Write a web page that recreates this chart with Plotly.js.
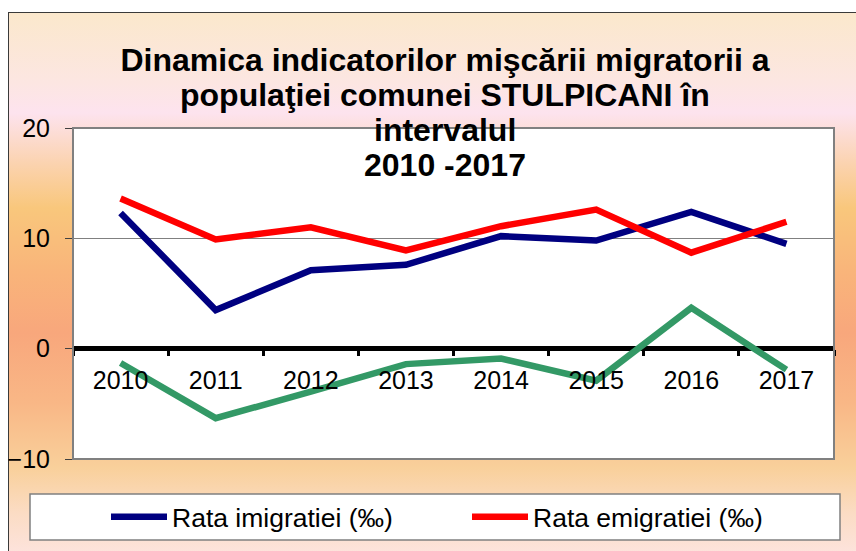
<!DOCTYPE html>
<html>
<head>
<meta charset="utf-8">
<script src="https://cdn.plot.ly/plotly-3.0.1.min.js"></script>
<style>
  html, body { margin: 0; padding: 0; width: 856px; height: 551px; overflow: hidden; background: #ffffff; }
  #bg { position: absolute; left: 8px; top: 12px; width: 860px; height: 560px;
        border-top: 1px solid #3a3a3a; border-left: 1px solid #3a3a3a;
        background: linear-gradient(to bottom, #fbe8cc 0px, #fce6e2 70px, #fde3ee 100px, #fbd3b0 150px,
                    #f9c77c 195px, #f9b47a 260px, #f8a77c 320px, #f9b786 390px, #f9d09b 455px,
                    #fbdcc4 500px, #fde3dc 540px); }
  #chart { position: absolute; left: 0; top: 0; width: 856px; height: 551px; }
</style>
</head>
<body>
<div id="bg"></div>
<div id="chart"></div>
<script>
const years = ["2010", "2011", "2012", "2013", "2014", "2015", "2016", "2017"];
const rataImigratiei = [12.3, 3.5, 7.1, 7.6, 10.2, 9.8, 12.4, 9.5];
const rataEmigratiei = [13.6, 9.9, 11.0, 8.9, 11.1, 12.6, 8.7, 11.5];
const sporMigratoriu = [-1.3, -6.3, -3.9, -1.4, -0.9, -2.9, 3.7, -1.9];
const seriesNames = ["Rata imigratiei (‰)", "Rata emigratiei (‰)", "Spor migratoriu (‰)"];
const titleLines = [
  "Dinamica indicatorilor mişcării migratorii a",
  "populaţiei comunei STULPICANI în",
  "intervalul",
  "2010 -2017"
];

const FONT = "Liberation Sans, Arial, sans-serif";
const TITLE_FONT = { family: FONT, size: 32, weight: "bold", color: "#000000" };

// plot area: x 73..834, y 128..459 (px)
const py = v => (459 - v) / 331;
const px = v => (v - 73) / 761;
const titleCenters = [60, 95, 130, 165];

const traces = [
  { x: years, y: rataImigratiei, name: seriesNames[0], type: "scatter", mode: "lines",
    line: { color: "#000080", width: 6.5 } },
  { x: years, y: rataEmigratiei, name: seriesNames[1], type: "scatter", mode: "lines",
    line: { color: "#ff0000", width: 6.5 } },
  { x: years, y: sporMigratoriu, name: seriesNames[2], type: "scatter", mode: "lines",
    line: { color: "#339966", width: 6.5 }, showlegend: false }
];

const layout = {
  width: 856, height: 551,
  margin: { l: 73, r: 22, t: 128, b: 92, pad: 0, autoexpand: false },
  paper_bgcolor: "rgba(0,0,0,0)",
  plot_bgcolor: "#ffffff",
  font: { family: FONT, color: "#000000", size: 25 },
  showlegend: true,
  title: {
    text: titleLines[0],
    font: TITLE_FONT,
    xref: "container", x: 445 / 856, xanchor: "center",
    yref: "container", y: 1 - titleCenters[0] / 551, yanchor: "middle"
  },
  annotations: titleLines.slice(1).map((t, i) => ({
    text: t, xref: "paper", yref: "paper",
    x: px(445), y: py(titleCenters[i + 1]), xanchor: "center", yanchor: "middle",
    showarrow: false, font: TITLE_FONT
  })),
  xaxis: {
    type: "category",
    range: [-0.5, 7.5],
    anchor: "free", position: 1 / 3,
    showline: false, showgrid: false, zeroline: false,
    ticks: "outside", tickson: "boundaries", ticklen: 6, tickwidth: 3, tickcolor: "#000000",
    ticklabelstandoff: 14,
    tickfont: { family: FONT, size: 25, color: "#000000" },
    fixedrange: true
  },
  yaxis: {
    range: [-10, 20], dtick: 10, tick0: 0,
    showgrid: true, gridcolor: "#808080", gridwidth: 1,
    zeroline: true, zerolinecolor: "#000000", zerolinewidth: 5,
    showline: false,
    ticks: "outside", ticklen: 7, tickwidth: 1, tickcolor: "#404040",
    ticklabelstandoff: 10,
    tickfont: { family: FONT, size: 25, color: "#000000" },
    fixedrange: true
  },
  legend: {
    orientation: "h",
    x: px(467), xanchor: "center",
    y: py(517), yanchor: "middle",
    bgcolor: "rgba(0,0,0,0)", borderwidth: 0,
    font: { family: FONT, size: 26.5, color: "#000000" },
    itemwidth: 56,
    entrywidth: 290, entrywidthmode: "pixels"
  },
  shapes: [
    { type: "rect", xref: "paper", yref: "paper", x0: 0, x1: 1, y0: 0, y1: 1,
      line: { color: "#808080", width: 2 }, fillcolor: "rgba(0,0,0,0)", layer: "above" },
    { type: "rect", xref: "paper", yref: "paper",
      x0: px(30), x1: px(840), y0: py(540), y1: py(494),
      line: { color: "#808080", width: 1.5 }, fillcolor: "#ffffff", layer: "below" }
  ]
};

Plotly.newPlot("chart", traces, layout, { displayModeBar: false, staticPlot: true });
</script>
</body>
</html>
